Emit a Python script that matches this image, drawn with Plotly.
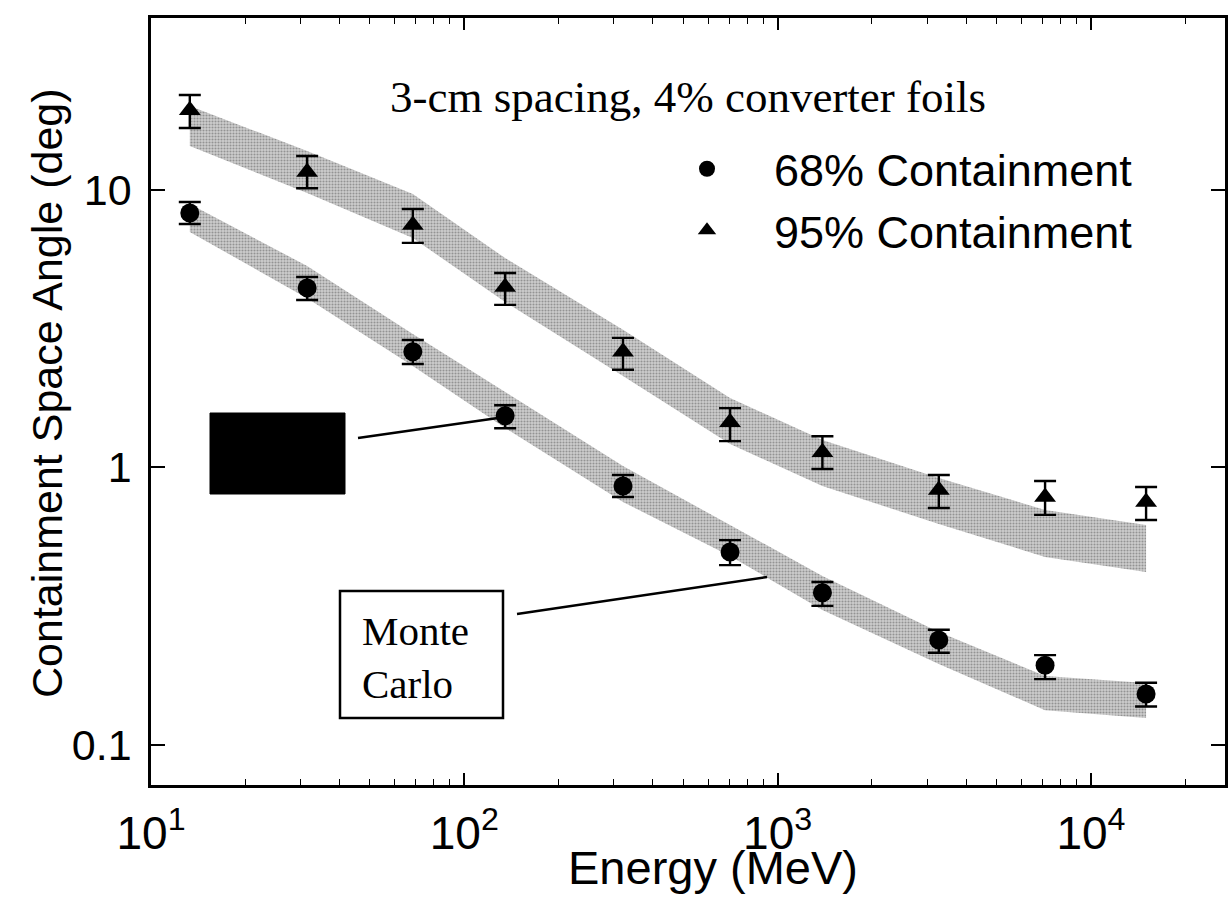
import plotly.graph_objects as go

# ---------------- data ----------------
energy = [13.3, 31.5, 68.5, 135, 321, 705, 1390, 3270, 7140, 15000]

c68 = [8.23, 4.42, 2.60, 1.53, 0.854, 0.494, 0.352, 0.238, 0.193, 0.152]
c68_hi = [9.01, 4.84, 2.87, 1.67, 0.936, 0.545, 0.385, 0.259, 0.210, 0.167]
c68_lo = [7.51, 4.00, 2.35, 1.38, 0.780, 0.443, 0.316, 0.214, 0.172, 0.137]

c95 = [19.3, 11.56, 7.45, 4.45, 2.60, 1.45, 1.13, 0.826, 0.780, 0.748]
c95_hi = [21.9, 13.2, 8.51, 5.00, 2.92, 1.63, 1.29, 0.936, 0.890, 0.847]
c95_lo = [16.66, 10.1, 6.42, 3.84, 2.24, 1.24, 0.983, 0.712, 0.672, 0.644]

# Monte Carlo bands
band_e = [13.3, 31.5, 68.5, 135, 321, 705, 1390, 3270, 7140, 15000]
mc95_top = [20.0, 13.76, 9.63, 5.66, 3.12, 1.773, 1.251, 0.913, 0.700, 0.618]
mc95_bot = [14.35, 9.71, 6.69, 3.93, 2.128, 1.21, 0.854, 0.623, 0.474, 0.418]
mc68_top = [8.87, 5.30, 3.015, 1.864, 1.008, 0.618, 0.405, 0.2543, 0.1765, 0.1665]
mc68_bot = [7.03, 4.06, 2.31, 1.382, 0.748, 0.478, 0.305, 0.195, 0.133, 0.1246]

x_tickvals = [10, 100, 1000, 10000]
x_ticktext = ["10<sup>1</sup>", "10<sup>2</sup>", "10<sup>3</sup>", "10<sup>4</sup>"]
y_tickvals = [0.1, 1, 10]
y_ticktext = ["0.1", "1", "10"]

# ---------------- figure ----------------
SANS = "Liberation Sans, Arial, sans-serif"
SERIF = "Liberation Serif, Times New Roman, serif"

fig = go.Figure()

band_pattern = dict(shape=".", fgcolor="rgb(90,90,90)", bgcolor="rgb(205,205,205)",
                    size=3, solidity=0.4)
for top, bot in [(mc95_top, mc95_bot), (mc68_top, mc68_bot)]:
    fig.add_trace(go.Scatter(
        x=band_e + band_e[::-1], y=top + bot[::-1],
        fill="toself", mode="lines", line=dict(width=0),
        fillcolor="rgb(180,180,180)", fillpattern=band_pattern,
        showlegend=False, hoverinfo="skip"))

fig.add_trace(go.Scatter(
    x=energy, y=c68, mode="markers", name="68% Containment",
    marker=dict(symbol="circle", size=19, color="black"),
    error_y=dict(type="data", symmetric=False,
                 array=[h - v for h, v in zip(c68_hi, c68)],
                 arrayminus=[v - l for v, l in zip(c68, c68_lo)],
                 color="black", thickness=2.4, width=11)))

fig.add_trace(go.Scatter(
    x=energy, y=c95, mode="markers", name="95% Containment",
    marker=dict(symbol="triangle-up", size=19, color="black"),
    error_y=dict(type="data", symmetric=False,
                 array=[h - v for h, v in zip(c95_hi, c95)],
                 arrayminus=[v - l for v, l in zip(c95, c95_lo)],
                 color="black", thickness=2.4, width=11)))

# plot area in pixels: x 151..1225, y 18..785
L, R, T, B = 151, 1225, 18, 785
W, H = R - L, B - T


def px(x):
    return (x - L) / W


def py(y):
    return (B - y) / H


shapes = [
    # black box
    dict(type="rect", xref="paper", yref="paper",
         x0=px(210), x1=px(345), y0=py(494), y1=py(413),
         fillcolor="black", line=dict(color="black", width=1)),
    dict(type="line", xref="paper", yref="paper",
         x0=px(358), y0=py(438), x1=px(498), y1=py(418),
         line=dict(color="black", width=2.5)),
    # Monte Carlo box
    dict(type="rect", xref="paper", yref="paper",
         x0=px(340), x1=px(503), y0=py(718), y1=py(591),
         fillcolor="white", line=dict(color="black", width=2.5)),
    dict(type="line", xref="paper", yref="paper",
         x0=px(517), y0=py(614), x1=px(767), y1=py(577),
         line=dict(color="black", width=2.5)),
]

annotations = [
    dict(xref="paper", yref="paper", x=px(688), y=py(97),
         text="3-cm spacing, 4% converter foils", showarrow=False,
         font=dict(family=SERIF, size=45, color="black"),
         xanchor="center", yanchor="middle"),
    dict(xref="paper", yref="paper", x=px(360), y=py(657),
         text="Monte<br>Carlo", showarrow=False, align="left",
         font=dict(family=SERIF, size=41, color="black"),
         xanchor="left", yanchor="middle"),
    # axis titles
    dict(xref="paper", yref="paper", x=px(713), y=py(868),
         text="Energy (MeV)", showarrow=False,
         font=dict(family=SANS, size=47, color="black"),
         xanchor="center", yanchor="middle"),
    dict(xref="paper", yref="paper", x=px(47), y=py(393),
         text="Containment Space Angle (deg)", showarrow=False, textangle=-90,
         font=dict(family=SANS, size=43, color="black"),
         xanchor="center", yanchor="middle"),
]

fig.update_layout(
    width=1228, height=905,
    margin=dict(l=L, r=1228 - R, t=T, b=905 - B, autoexpand=False),
    paper_bgcolor="white", plot_bgcolor="white",
    shapes=shapes, annotations=annotations,
    showlegend=True,
    legend=dict(x=px(640), y=py(133), xanchor="left", yanchor="top",
                font=dict(family=SANS, size=45, color="black"),
                bgcolor="rgba(0,0,0,0)", itemwidth=124, tracegroupgap=0),
    xaxis=dict(type="log", range=[1, 4.428], automargin=False,
               tickvals=x_tickvals, ticktext=x_ticktext,
               ticks="inside", ticklen=12, tickwidth=2, tickcolor="black",
               minor=dict(ticks="inside", ticklen=6, tickwidth=1.2, tickcolor="black", dtick="D1"),
               showline=True, linecolor="black", linewidth=2.5, mirror="allticks",
               showgrid=False, zeroline=False,
               tickfont=dict(family=SANS, size=46, color="black"),
               ticklabelstandoff=6),
    yaxis=dict(type="log", range=[(467 - 785) / 277.5, (467 - 18) / 277.5], automargin=False,
               tickvals=y_tickvals, ticktext=y_ticktext,
               ticks="inside", ticklen=14, tickwidth=2, tickcolor="black",
               showline=True, linecolor="black", linewidth=2.5, mirror="allticks",
               showgrid=False, zeroline=False,
               tickfont=dict(family=SANS, size=43, color="black"),
               ticklabelstandoff=8),
)

fig.write_html("out.html")
